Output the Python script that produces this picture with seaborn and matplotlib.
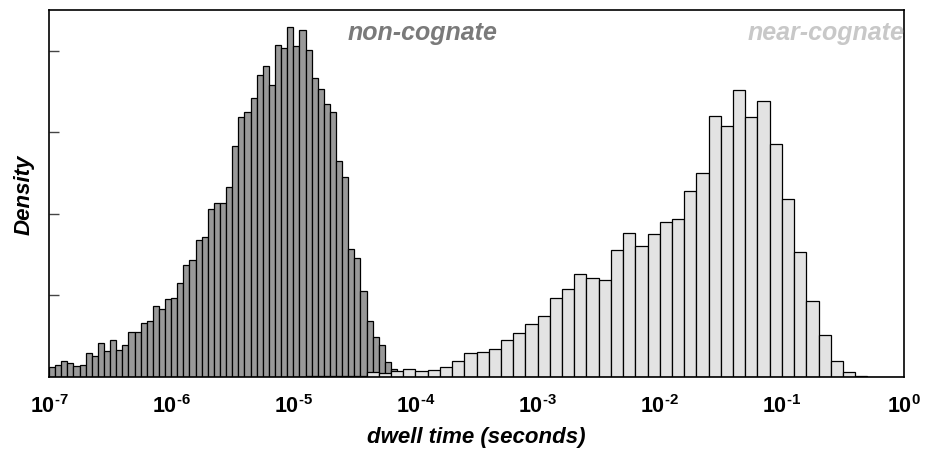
import numpy as np
import pandas as pd
import matplotlib
matplotlib.use("Agg")
import matplotlib.pyplot as plt
import seaborn as sns

# ---- data (density) ----
# non-cognate: 20 bins per decade from 1e-7 to 1e-4
noncog_heights = [0.119, 0.151, 0.200, 0.168, 0.131, 0.147, 0.294, 0.254, 0.413, 0.315,
                  0.458, 0.328, 0.389, 0.552, 0.552, 0.659, 0.691, 0.867, 0.838, 0.953,
                  0.969, 1.150, 1.378, 1.432, 1.685, 1.718, 2.061, 2.131, 2.139, 2.328,
                  2.831, 3.190, 3.248, 3.423, 3.702, 3.812, 3.583, 4.074, 4.040, 4.291,
                  4.058, 4.254, 4.004, 3.672, 3.534, 3.346, 3.248, 2.654, 2.450, 1.571,
                  1.464, 1.055, 0.691, 0.487, 0.393, 0.188, 0.098, 0.025, 0.012, 0.006]
noncog_range = (-7, -4)      # log10 seconds

# near-cognate: 10 bins per decade from 1e-5 to 1e0
nearcog_heights = [0.000, 0.012, 0.012, 0.012, 0.012, 0.012, 0.057, 0.049, 0.070, 0.098,
                   0.070, 0.086, 0.119, 0.193, 0.291, 0.307, 0.340, 0.458, 0.540, 0.650,
                   0.745, 0.969, 1.080, 1.264, 1.218, 1.194, 1.562, 1.767, 1.611, 1.751,
                   1.906, 1.939, 2.279, 2.503, 3.206, 3.083, 3.518, 3.182, 3.383, 2.855,
                   2.184, 1.537, 0.933, 0.515, 0.193, 0.058, 0.012, 0.004, 0.004, 0.004]
nearcog_range = (-5, 0)

xtick_exps = [-7, -6, -5, -4, -3, -2, -1, 0]
ytick_vals = [1, 2, 3, 4]

labels = {"non": "non-cognate", "near": "near-cognate"}


def to_frame(heights, lo, hi):
    n = len(heights)
    edges = np.linspace(lo, hi, n + 1)
    centers = (edges[:-1] + edges[1:]) / 2
    return pd.DataFrame({"t": 10 ** centers, "w": heights})


df_non = to_frame(noncog_heights, *noncog_range)
df_near = to_frame(nearcog_heights, *nearcog_range)

sns.set_theme(style="white")
plt.rcParams["font.family"] = ["Liberation Sans", "DejaVu Sans"]
plt.rcParams["text.color"] = "black"
plt.rcParams["axes.labelcolor"] = "black"
plt.rcParams["xtick.color"] = "black"
plt.rcParams["ytick.color"] = "black"
plt.rcParams["mathtext.fontset"] = "custom"
plt.rcParams["mathtext.rm"] = "Liberation Sans:bold"
plt.rcParams["mathtext.bf"] = "Liberation Sans:bold"
plt.rcParams["mathtext.it"] = "Liberation Sans:bold:italic"

fig = plt.figure(figsize=(9.3, 4.52), dpi=100)
ax = fig.add_axes([49 / 930, 1 - 378 / 452, (904 - 49) / 930, (378 - 11) / 452])

sns.histplot(data=df_non, x="t", weights="w", bins=len(noncog_heights),
             binrange=noncog_range, log_scale=True,
             stat="count", element="bars", fill=True, color="#999999", alpha=1,
             edgecolor="black", linewidth=0.9, ax=ax)
sns.histplot(data=df_near, x="t", weights="w", bins=len(nearcog_heights),
             binrange=nearcog_range, log_scale=True,
             stat="count", element="bars", fill=True, color="#e3e3e3", alpha=1,
             edgecolor="black", linewidth=0.9, ax=ax)

ax.set_xlim(10.0 ** xtick_exps[0], 10.0 ** xtick_exps[-1])
ax.set_ylim(0, 4.5)
ax.set_xticks([10.0 ** e for e in xtick_exps])
ax.set_xticklabels([r"$10^{\text{-%d}}$" % (-e) if e < 0 else r"$10^{%d}$" % e
                    for e in xtick_exps], fontsize=15.5, color="black")
ax.xaxis.set_minor_locator(matplotlib.ticker.NullLocator())
ax.set_yticks(ytick_vals)
ax.set_yticklabels([])
ax.tick_params(axis="x", direction="out", length=7, width=1, color="#444444", pad=5)
ax.tick_params(axis="y", direction="in", length=7, width=1, color="#444444", left=True)
for s in ax.spines.values():
    s.set_visible(True)
    s.set_color("black")
    s.set_linewidth(1.2)

ax.set_xlabel("dwell time (seconds)", fontsize=16, fontweight="bold", fontstyle="italic",
              labelpad=7, color="black")
ax.set_ylabel("Density", fontsize=16, fontweight="bold", fontstyle="italic", labelpad=7,
              color="black")

ax.text(10 ** -4.552, 4.147, labels["non"], fontsize=18, fontweight="bold",
        fontstyle="italic", color="#7a7a7a", ha="left", va="baseline")
ax.text(10 ** -1.277, 4.147, labels["near"], fontsize=18, fontweight="bold",
        fontstyle="italic", color="#c8c8c8", ha="left", va="baseline")

fig.savefig("out.png", dpi=100)
